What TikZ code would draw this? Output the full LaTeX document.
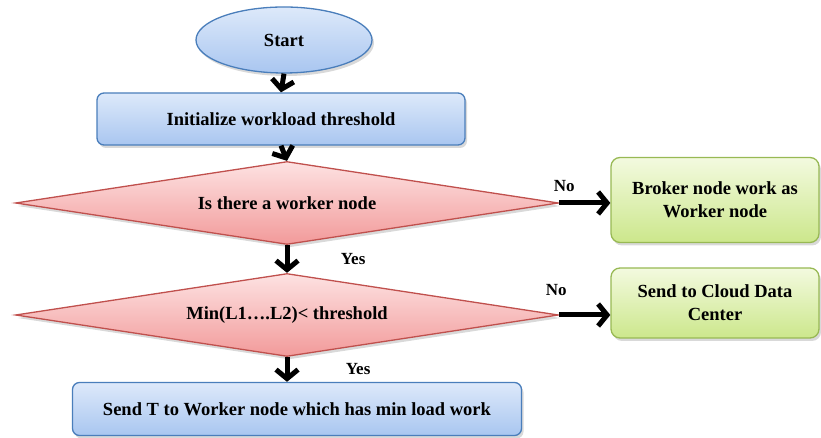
\documentclass[tikz,border=0pt]{standalone}
\usepackage{fontspec}
\setmainfont{Liberation Serif}
\usetikzlibrary{shapes.geometric,arrows.meta,shadows}

\definecolor{blueline}{HTML}{4A7EBB}
\definecolor{bluetop}{HTML}{DDE9FA}
\definecolor{bluebot}{HTML}{A9C6F0}
\definecolor{redline}{HTML}{C0504D}
\definecolor{redtop}{HTML}{FDE2E2}
\definecolor{redbot}{HTML}{F29A9A}
\definecolor{greenline}{HTML}{98B954}
\definecolor{greentop}{HTML}{F3FADF}
\definecolor{greenbot}{HTML}{CCE78C}

\tikzset{
  every node/.style={font=\fontsize{18.5}{23}\selectfont\bfseries},
  shade/.style={drop shadow={opacity=0.3, shadow xshift=2pt, shadow yshift=-3pt}},
  startnode/.style={ellipse, draw=blueline, line width=1.3pt, top color=bluetop, bottom color=bluebot, shade, minimum width=176, minimum height=66, inner sep=0},
  bluebox/.style={rectangle, rounded corners=7pt, draw=blueline, line width=1.3pt, top color=bluetop, bottom color=bluebot, shade, inner sep=0},
  decision/.style={diamond, aspect=6.5, draw=redline, line width=1.3pt, top color=redtop, bottom color=redbot, shade, minimum width=543, minimum height=83, inner sep=0},
  greenbox/.style={rectangle, rounded corners=9pt, draw=greenline, line width=1.3pt, top color=greentop, bottom color=greenbot, shade, minimum width=208, align=center, inner sep=0},
  arr/.style={-{Straight Barb[length=9pt,width=22pt]}, line width=5pt, black},
  lbl/.style={font=\fontsize{17}{20}\selectfont\bfseries}
}

\begin{document}
\begin{tikzpicture}[x=1pt,y=1pt]
  \useasboundingbox (0,0) rectangle (821,438);

  \node[startnode] (start) at (284,398) {Start};
  \node[bluebox, minimum width=368, minimum height=52] (init) at (281,319) {Initialize workload threshold};
  \node[decision] (worker) at (287,235) {Is there a worker node};
  \node[greenbox, minimum height=85] (broker) at (715,238) {Broker node work as\\Worker node};
  \node[decision] (minload) at (287,123) {Min(L1\dots.L2)< threshold};
  \node[greenbox, minimum height=70] (cloud) at (715,135) {Send to Cloud Data\\Center};
  \node[bluebox, minimum width=449, minimum height=53] (send) at (297,29) {Send T to Worker node which has min load work};

  \draw[arr] (start.south) -- (init.north);
  \draw[arr] (init.south) -- (worker.north);
  \draw[arr] (worker.east) -- node[lbl, pos=0.1, above=5pt] {No} (worker.east -| broker.west);
  \draw[arr] (worker.south) -- node[lbl, right=48pt] {Yes} (minload.north);
  \draw[arr] (minload.east) -- node[lbl, pos=0, above=13pt, xshift=-3pt] {No} (minload.east -| cloud.west);
  \draw[arr] (minload.south) -- node[lbl, right=53pt] {Yes} (minload.south |- send.north);
\end{tikzpicture}
\end{document}
